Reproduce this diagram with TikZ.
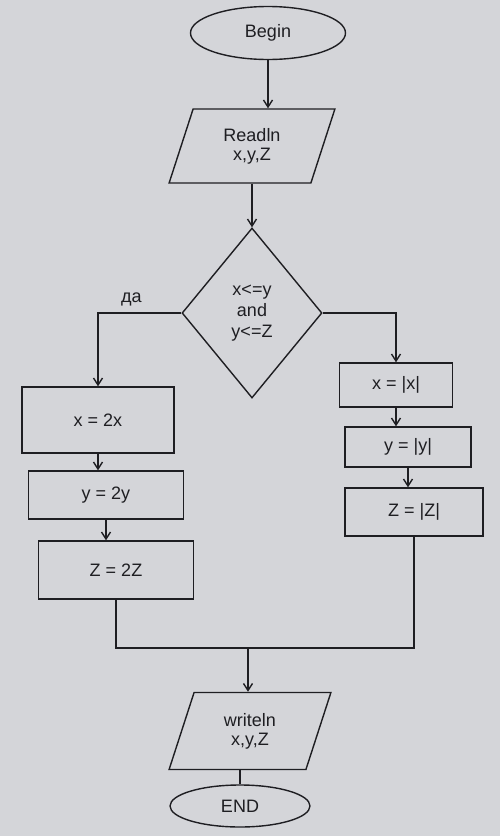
\documentclass[tikz,border=0pt]{standalone}
\usepackage{fontspec}
\setmainfont{Liberation Sans}
\usetikzlibrary{shapes.geometric,arrows.meta}
\definecolor{paper}{RGB}{212,213,217}
\definecolor{ink}{RGB}{30,30,34}
\tikzset{
  every node/.style={text=ink, font=\fontsize{18}{21}\selectfont},
  line/.style={draw=ink, line width=1.4pt},
  arr/.style={line, -{Straight Barb[length=7pt,width=9pt]}},
  term/.style={ellipse, line, inner sep=0pt},
  io/.style={trapezium, trapezium left angle=72, trapezium right angle=108, line, inner sep=0pt, align=center},
  proc/.style={rectangle, line, inner sep=0pt, anchor=center},
  cond/.style={diamond, line, inner sep=0pt, align=center}
}
\begin{document}
\begin{tikzpicture}[x=1pt,y=-1pt]
\fill[paper] (0,0) rectangle (500,836);
\useasboundingbox (0,0) rectangle (500,836);

\node[term, minimum width=155pt, minimum height=53pt] (begin) at (268,33) {Begin};
\node[io, minimum width=160pt, minimum height=74pt] (read) at (252,146) {Readln\\[-2pt]x,y,Z};
\node[cond, minimum width=140pt, minimum height=170pt] (dec) at (252,313) {x\textless=y\\and\\y\textless=Z};

\node[proc, minimum width=152pt, minimum height=66pt] (x2) at (98,420) {x = 2x};
\node[proc, minimum width=155pt, minimum height=48pt] (y2) at (106,495) {y = 2y};
\node[proc, minimum width=155pt, minimum height=58pt] (z2) at (116,570) {Z = 2Z};

\node[proc, minimum width=113pt, minimum height=44pt] (xa) at (396,385) {x = |x|};
\node[proc, minimum width=126pt, minimum height=40pt] (ya) at (408,447) {y = |y|};
\node[proc, minimum width=138pt, minimum height=48pt] (za) at (414,512) {Z = |Z|};

\coordinate (m) at (248,648);
\node[io, minimum width=162pt, minimum height=72pt] (wr) at (250,731) {writeln\\[-2pt]x,y,Z};
\node[term, minimum width=140pt, minimum height=42pt] (end) at (240,806) {END};

\draw[arr] (begin.south) -- (begin.south |- read.north);
\draw[arr] (read.south -| dec.north) -- (dec.north);
\draw[arr] (dec.west) -| node[pos=0.3, above=3pt] {да} (x2.north);
\draw[arr] (dec.east) -| (xa.north);
\draw[arr] (x2.south) -- (x2.south |- y2.north);
\draw[arr] (y2.south) -- (y2.south |- z2.north);
\draw[arr] (xa.south) -- (xa.south |- ya.north);
\draw[arr] (ya.south) -- (ya.south |- za.north);
\draw[line] (z2.south) |- (m);
\draw[line] (za.south) |- (m);
\draw[arr] (m) -- (m |- wr.north);
\draw[line] (wr.south -| end.north) -- (end.north);
\end{tikzpicture}
\end{document}
